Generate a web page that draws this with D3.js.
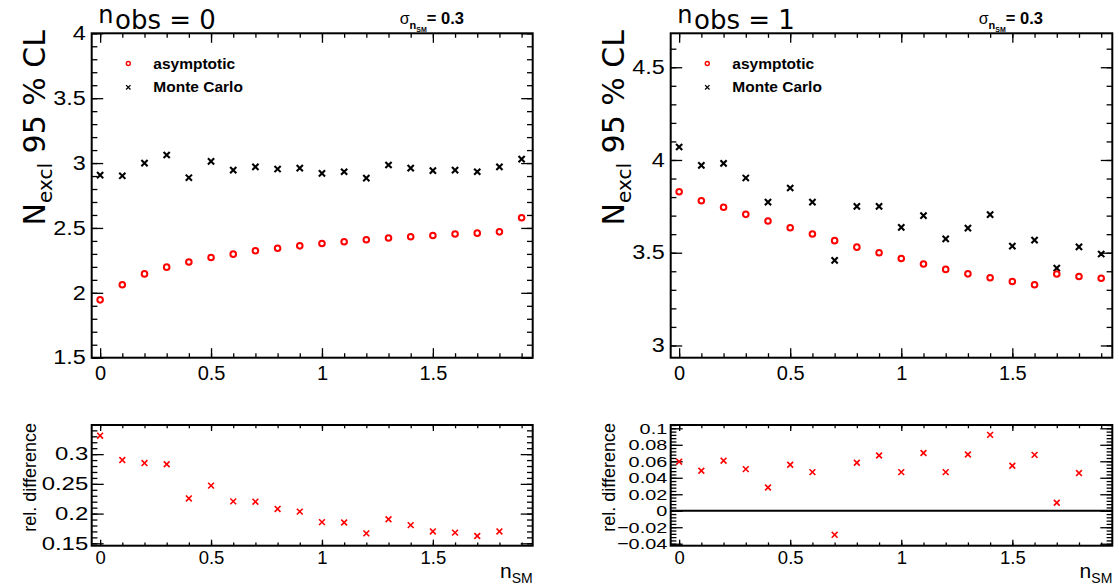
<!DOCTYPE html>
<html>
<head>
<meta charset="utf-8">
<script src="https://cdn.jsdelivr.net/npm/d3@7"></script>
<style>
  body { margin: 0; background: #fff; }
  text { font-family: "Liberation Sans", Arial, sans-serif; fill: #000; }
</style>
</head>
<body>
<svg id="chart" width="1119" height="586"></svg>
<script>
// x values (n_SM) for every point
var nSM = [0, 0.1, 0.2, 0.3, 0.4, 0.5, 0.6, 0.7, 0.8, 0.9, 1.0, 1.1, 1.2, 1.3, 1.4, 1.5, 1.6, 1.7, 1.8, 1.9];

// n_obs = 0
var asym0 = [1.946, 2.062, 2.146, 2.198, 2.237, 2.272, 2.298, 2.324, 2.344, 2.362,
             2.380, 2.393, 2.409, 2.422, 2.432, 2.442, 2.453, 2.460, 2.470, 2.578];
var mc0   = [2.907, 2.902, 3.000, 3.062, 2.887, 3.013, 2.946, 2.971, 2.954, 2.961,
             2.920, 2.933, 2.884, 2.985, 2.961, 2.941, 2.946, 2.933, 2.971, 3.031];
var rel0  = [0.331, 0.290, 0.285, 0.283, 0.2255, 0.247, 0.2205, 0.220, 0.2078, 0.2033,
             0.1856, 0.185, 0.1667, 0.1905, 0.1806, 0.170, 0.168, 0.1623, 0.170];

// n_obs = 1
var asym1 = [3.829, 3.780, 3.745, 3.707, 3.671, 3.635, 3.601, 3.565, 3.530, 3.500,
             3.469, 3.439, 3.410, 3.386, 3.365, 3.345, 3.327, 3.385, 3.372, 3.362];
var mc1   = [4.070, 3.971, 3.982, 3.903, 3.773, 3.849, 3.773, 3.459, 3.750, 3.750,
             3.637, 3.700, 3.575, 3.633, 3.705, 3.536, 3.568, 3.417, 3.532, 3.493];
var rel1  = [0.0595, 0.0485, 0.0607, 0.0505, 0.0282, 0.0558, 0.0468, -0.0292, 0.0582, 0.0670,
             0.0468, 0.0700, 0.0468, 0.0682, 0.0920, 0.0546, 0.0678, 0.0097, 0.0457];

// tick labels
var xTicks   = [0, 0.5, 1, 1.5];
var yTicks0  = [1.5, 2, 2.5, 3, 3.5, 4];
var yTicks1  = [3, 3.5, 4, 4.5];
var rTicks0  = [0.15, 0.2, 0.25, 0.3];
var rTicks1  = [-0.04, -0.02, 0, 0.02, 0.04, 0.06, 0.08, 0.1];

var svg = d3.select("#chart");
var fmt = d3.format("~g");

var panels = [
  {nobs: "0", x0: 91.7, x1: 532.7, asym: asym0, mc: mc0, rel: rel0,
   yDom: [1.5, 4], yT: yTicks0, yMinor: 0.1,
   rDom: [0.146, 0.349], rT: rTicks0, rMinor: 0.01, rFont: 18, rStretch: 1.33, zero: false},
  {nobs: "1", x0: 670.7, x1: 1112.3, asym: asym1, mc: mc1, rel: rel1,
   yDom: [2.934, 4.683], yT: yTicks1, yMinor: 0.1,
   rDom: [-0.0424, 0.104], rT: rTicks1, rMinor: 0.004, rFont: 15.5, rStretch: 1.28, zero: true}
];

var topY = [33.3, 357.7], botY = [425, 545.7];

function minorTicks(dom, step) {
  var lo = Math.ceil(Math.min(dom[0], dom[1]) / step - 1e-6);
  var hi = Math.floor(Math.max(dom[0], dom[1]) / step + 1e-6);
  var out = [];
  for (var i = lo; i <= hi; i++) out.push(+(i * step).toFixed(6));
  return out;
}

function drawFrame(g, x, y, xT, yT, xMinStep, yMinStep, s) {
  var xr = x.range(), yr = y.range();
  var xm = minorTicks(x.domain(), xMinStep), ym = minorTicks(y.domain(), yMinStep);

  function ax(axis, tr, len, pad, vals, labels, size) {
    var a = g.append("g").attr("transform", tr)
      .call(axis.tickValues(vals).tickSizeInner(-len).tickSizeOuter(0).tickPadding(pad)
        .tickFormat(labels ? fmt : ""));
    a.select(".domain").remove();
    a.selectAll("line").attr("stroke", "#000").attr("stroke-width", 1.3);
    a.selectAll("text").style("font-size", size + "px").attr("fill", "#000");
    a.attr("font-family", null);
    return a;
  }
  // bottom / top x ticks
  ax(d3.axisBottom(x), "translate(0," + yr[0] + ")", s.xMaj, s.xPad, xT, true, s.xFont);
  ax(d3.axisBottom(x), "translate(0," + yr[0] + ")", s.xMin, 0, xm, false, 1);
  ax(d3.axisTop(x), "translate(0," + yr[1] + ")", s.xMaj, 0, xT, false, 1);
  ax(d3.axisTop(x), "translate(0," + yr[1] + ")", s.xMin, 0, xm, false, 1);
  // left / right y ticks; y labels are drawn wide like the original
  var yl = ax(d3.axisLeft(y), "translate(" + xr[0] + ",0)", s.yMaj, s.yPad, yT, true, s.yFont);
  yl.selectAll("text")
    .attr("x", 0)
    .attr("transform", "translate(" + (-s.yPad) + ",0) scale(" + s.yStretch + ",1)");
  ax(d3.axisLeft(y), "translate(" + xr[0] + ",0)", s.yMin, 0, ym, false, 1);
  ax(d3.axisRight(y), "translate(" + xr[1] + ",0)", s.yMaj, 0, yT, false, 1);
  ax(d3.axisRight(y), "translate(" + xr[1] + ",0)", s.yMin, 0, ym, false, 1);

  g.append("rect")
    .attr("x", xr[0]).attr("y", yr[1])
    .attr("width", xr[1] - xr[0]).attr("height", yr[0] - yr[1])
    .attr("fill", "none").attr("stroke", "#000").attr("stroke-width", 2);
}

var cross = function(r) { return "M" + (-r) + "," + (-r) + "L" + r + "," + r + "M" + (-r) + "," + r + "L" + r + "," + (-r); };

panels.forEach(function(p) {
  var x = d3.scaleLinear().domain([-0.038, 1.95]).range([p.x0, p.x1]);
  var y = d3.scaleLinear().domain(p.yDom).range(topY.slice().reverse());
  var yr = d3.scaleLinear().domain(p.rDom).range(botY.slice().reverse());

  var gt = svg.append("g");
  drawFrame(gt, x, y, xTicks, p.yT, 0.1, p.yMinor,
    {xMaj: 9.5, xMin: 4.5, yMaj: 11.5, yMin: 5.7,
     xPad: 8, yPad: 6, xFont: 20, yFont: 19.5, yStretch: 1.2});

  // Monte Carlo
  gt.selectAll("path.mc").data(p.mc).enter().append("path")
    .attr("class", "mc")
    .attr("d", cross(3.1))
    .attr("transform", function(d, i) { return "translate(" + x(nSM[i]) + "," + y(d) + ")"; })
    .attr("stroke", "#000").attr("stroke-width", 2.1).attr("fill", "none");
  // asymptotic
  gt.selectAll("circle.as").data(p.asym).enter().append("circle")
    .attr("class", "as")
    .attr("cx", function(d, i) { return x(nSM[i]); })
    .attr("cy", function(d) { return y(d); })
    .attr("r", 2.8)
    .attr("fill", "none").attr("stroke", "#ff0000").attr("stroke-width", 2);

  // legend
  var lx = p.x0 + 36.6;
  gt.append("circle").attr("cx", lx).attr("cy", 63.5).attr("r", 2)
    .attr("fill", "none").attr("stroke", "#ff0000").attr("stroke-width", 1.4);
  gt.append("path").attr("d", cross(2.2)).attr("transform", "translate(" + lx + ",87.3)")
    .attr("stroke", "#000").attr("stroke-width", 1.3);
  gt.append("text").attr("x", p.x0 + 61.6).attr("y", 68.5)
    .style("font-size", "15.5px").style("font-weight", "bold").text("asymptotic");
  gt.append("text").attr("x", p.x0 + 61.6).attr("y", 92.3)
    .style("font-size", "15.5px").style("font-weight", "bold").text("Monte Carlo");

  // title n_obs: raised "n", then "obs = .."
  gt.append("text").attr("x", p.x0 + 6.6).attr("y", 22.8)
    .style("font-family", "DejaVu Sans").style("font-size", "24px").text("n");
  gt.append("text").attr("x", p.x0 + 23.3).attr("y", 28.6)
    .style("font-family", "DejaVu Sans").style("font-size", "26px").text("obs = " + p.nobs);

  // sigma label
  var s = gt.append("text").attr("x", p.x0 + 308).attr("y", 24).style("font-size", "16px");
  s.append("tspan").text("σ");
  s.append("tspan").attr("dy", 4.5).style("font-size", "11px").style("font-weight", "bold").text("n");
  s.append("tspan").attr("dy", 3).style("font-size", "7px").style("font-weight", "bold").text("SM");
  s.append("tspan").attr("dy", -7.5).style("font-size", "16.5px").style("font-weight", "bold").text("= 0.3");

  // y title
  var yt = gt.append("text")
    .attr("transform", "translate(" + (p.x0 - 46.7) + "," + 30 + ") rotate(-90)")
    .attr("text-anchor", "end").style("font-family", "DejaVu Sans").style("font-size", "30px");
  yt.append("tspan").text("N");
  yt.append("tspan").attr("dy", 7).style("font-size", "20px").text("excl");
  yt.append("tspan").attr("dy", -7).text(" 95 % CL");

  // ratio panel
  var gb = svg.append("g");
  drawFrame(gb, x, yr, xTicks, p.rT, 0.1, p.rMinor,
    {xMaj: 6, xMin: 3.3, yMaj: 12, yMin: 5.7,
     xPad: 5, yPad: 3.5, xFont: 18.5, yFont: p.rFont, yStretch: p.rStretch});

  if (p.zero) {
    gb.append("line").attr("x1", p.x0).attr("x2", p.x1)
      .attr("y1", yr(0)).attr("y2", yr(0))
      .attr("stroke", "#000").attr("stroke-width", 2);
  }

  gb.selectAll("path.rel").data(p.rel).enter().append("path")
    .attr("class", "rel")
    .attr("d", cross(2.9))
    .attr("transform", function(d, i) { return "translate(" + x(nSM[i]) + "," + yr(d) + ")"; })
    .attr("stroke", "#ff0000").attr("stroke-width", 1.6).attr("fill", "none");

  gb.append("text")
    .attr("transform", "translate(" + (p.x0 - 55.7) + ",423) rotate(-90)")
    .attr("text-anchor", "end").style("font-size", "18px").text("rel. difference");

  var xl = gb.append("text").attr("x", p.x1).attr("y", 577.5)
    .attr("text-anchor", "end").style("font-size", "21px");
  xl.append("tspan").text("n");
  xl.append("tspan").attr("dy", 5.5).style("font-size", "14px").text("SM");
});
</script>
</body>
</html>
